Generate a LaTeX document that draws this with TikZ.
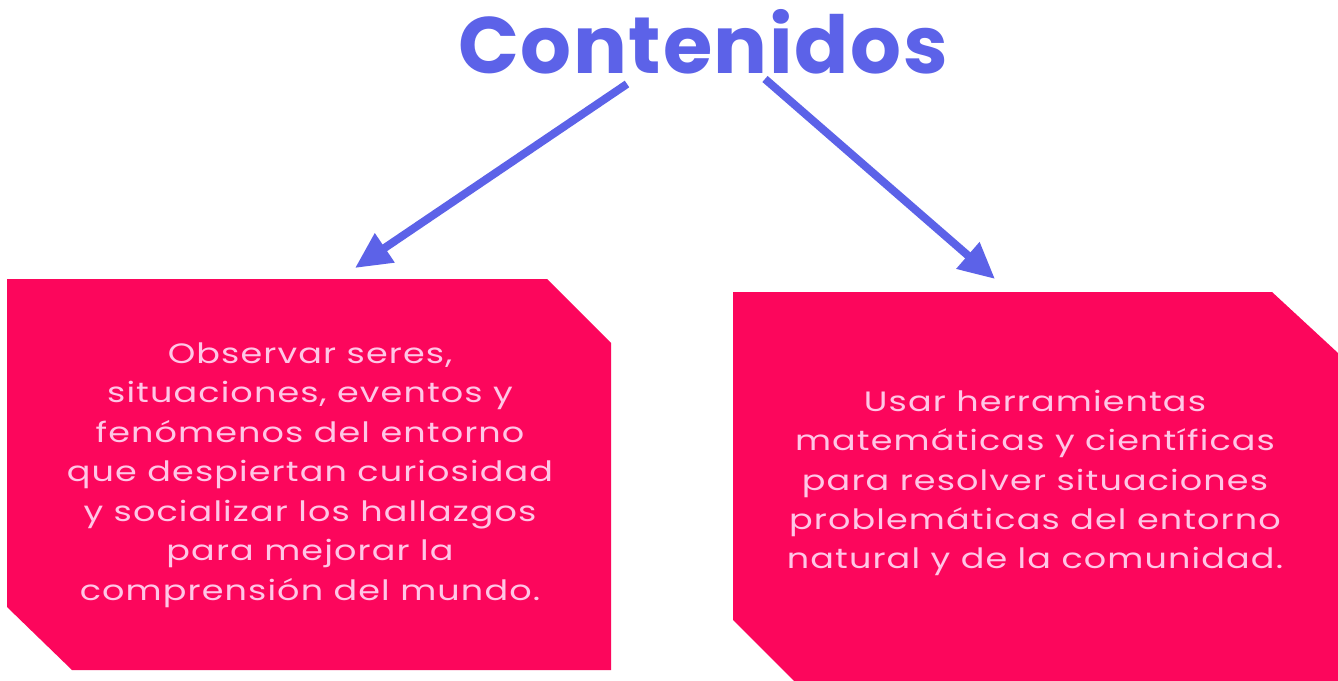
\documentclass[tikz,border=0pt]{standalone}
\usepackage{fontspec}
\setmainfont{Poppins}
\newfontfamily\boxfont{Poppins}[FakeStretch=1.25, LetterSpace=4]
\newfontfamily\titlefont{Poppins}[LetterSpace=2]
\usetikzlibrary{arrows.meta}
\definecolor{titleblue}{RGB}{92,98,232}
\definecolor{boxpink}{RGB}{252,6,92}
\definecolor{textpink}{RGB}{255,198,230}
\tikzset{
  pinkbox/.style={fill=boxpink, draw=none},
  boxtext/.style={text=textpink, align=center, inner sep=0pt, font=\boxfont\fontsize{21}{29.6}\selectfont},
  conn/.style={draw=titleblue, line width=6pt, -{Triangle[length=27pt,width=25pt]}},
}
\begin{document}
\begin{tikzpicture}[x=0.75pt,y=-0.75pt]
\useasboundingbox (0,0) rectangle (1338,681);
\fill[white] (0,0) rectangle (1338,681);
% boxes
\fill[pinkbox] (7,279) -- (547,279) -- (611,343) -- (611,670) -- (72,670) -- (7,607) -- cycle;
\fill[pinkbox] (733,292) -- (1272,292) -- (1338,353) -- (1338,681) -- (794,681) -- (733,620) -- cycle;
% title
\node[text=titleblue, font=\titlefont\bfseries\fontsize{60}{62}\selectfont, inner sep=0pt] (title) at (703,42) {Contenidos};
% texts
\node[boxtext] (left) at (310,475) {Observar seres,\\situaciones, eventos y\\fenómenos del entorno\\que despiertan curiosidad\\y socializar los hallazgos\\para mejorar la\\comprensión del mundo.};
\node[boxtext] (right) at (1035,483) {Usar herramientas\\matemáticas y científicas\\para resolver situaciones\\problemáticas del entorno\\natural y de la comunidad.};
% arrows
\coordinate (lt) at (627,84);
\coordinate (ltip) at (355,268);
\coordinate (rt) at (765,79);
\coordinate (rtip) at (995,279);
\draw[conn] (lt) -- (ltip);
\draw[conn] (rt) -- (rtip);
\end{tikzpicture}
\end{document}
